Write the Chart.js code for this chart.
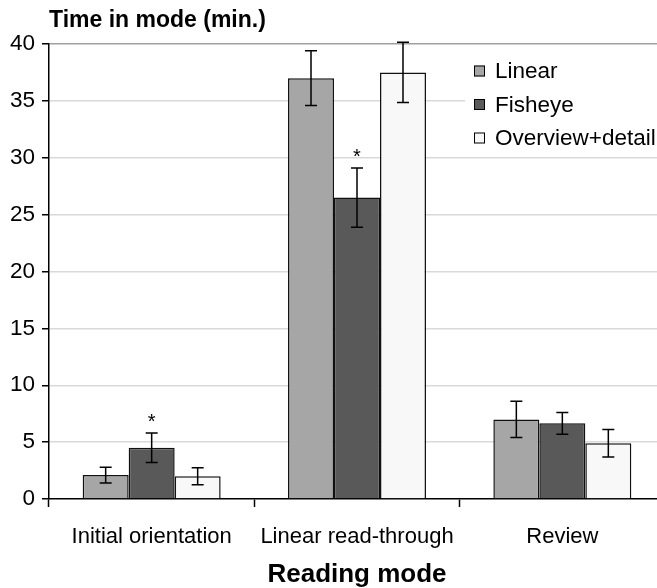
<!DOCTYPE html>
<html>
<head>
<meta charset="utf-8">
<title>Time in mode by reading mode</title>
<script src="https://cdn.jsdelivr.net/npm/chart.js@4/dist/chart.umd.min.js"></script>
<style>
  html, body { margin: 0; padding: 0; background: #fff; overflow: hidden; }
  #wrap { width: 657px; height: 588px; overflow: hidden; }
  canvas { display: block; }
</style>
</head>
<body>
<div id="wrap"><canvas id="c" width="665" height="588"></canvas></div>
<script>
// Reading modes on the x axis
const categories = ['Initial orientation', 'Linear read-through', 'Review'];

// Mean time in each mode (minutes), per interface
const linearTime   = [2.1, 37.0, 7.0];
const fisheyeTime  = [4.5, 26.5, 6.65];
const overviewTime = [2.0, 37.5, 4.9];

// Half-width of the error bars (minutes)
const linearErr   = [0.7, 2.4, 1.6];
const fisheyeErr  = [1.3, 2.6, 0.95];
const overviewErr = [0.75, 2.65, 1.2];

// Significant differences, marked with an asterisk
const fisheyeSignificant = [true, true, false];

const seriesNames = ['Linear', 'Fisheye', 'Overview+detail'];
const yTicks = [0, 5, 10, 15, 20, 25, 30, 35, 40];

const FONT = "'Liberation Sans', Arial, Helvetica, sans-serif";
const fills = ['#a6a6a6', '#595959', '#f8f8f8'];

const errorSets = [linearErr, fisheyeErr, overviewErr];
const starSets = [null, fisheyeSignificant, null];

// Error bars and significance asterisks
const errorBarPlugin = {
  id: 'errorBars',
  afterDatasetsDraw(chart) {
    const ctx = chart.ctx;
    const y = chart.scales.y;
    ctx.save();
    chart.data.datasets.forEach((ds, di) => {
      const meta = chart.getDatasetMeta(di);
      const errs = errorSets[di];
      meta.data.forEach((bar, i) => {
        const v = ds.data[i];
        const e = errs[i];
        const x = bar.x;
        const yTop = y.getPixelForValue(v + e);
        const yBot = y.getPixelForValue(v - e);
        ctx.strokeStyle = '#000';
        ctx.lineWidth = 1.5;
        ctx.beginPath();
        ctx.moveTo(x, yTop); ctx.lineTo(x, yBot);
        ctx.moveTo(x - 6, yTop); ctx.lineTo(x + 6, yTop);
        ctx.moveTo(x - 6, yBot); ctx.lineTo(x + 6, yBot);
        ctx.stroke();
        const stars = starSets[di];
        if (stars && stars[i]) {
          ctx.fillStyle = '#000';
          ctx.font = '20px ' + FONT;
          ctx.textAlign = 'center';
          ctx.textBaseline = 'middle';
          ctx.fillText('*', x, yTop - 11);
        }
      });
    });
    ctx.restore();
  }
};

// Axis titles and the legend box inside the plot
const decorPlugin = {
  id: 'decor',
  afterDraw(chart) {
    const ctx = chart.ctx;
    const area = chart.chartArea;
    ctx.save();
    // y axis title, above the axis
    ctx.fillStyle = '#000';
    ctx.font = 'bold 23px ' + FONT;
    ctx.textAlign = 'left';
    ctx.textBaseline = 'alphabetic';
    ctx.fillText('Time in mode (min.)', area.left, 27);
    // x axis title
    ctx.font = 'bold 26px ' + FONT;
    ctx.textAlign = 'center';
    ctx.fillText('Reading mode', (area.left + area.right) / 2, 582);
    // legend
    ctx.fillStyle = '#fff';
    ctx.fillRect(465, 52, 200, 103);
    ctx.font = '22.5px ' + FONT;
    ctx.textAlign = 'left';
    ctx.textBaseline = 'middle';
    seriesNames.forEach((name, i) => {
      const cy = 71 + i * 33.5;
      ctx.fillStyle = fills[i];
      ctx.fillRect(474, cy - 5.5, 11, 11);
      ctx.strokeStyle = '#000';
      ctx.lineWidth = 1;
      ctx.strokeRect(474.5, cy - 5, 10, 10);
      ctx.fillStyle = '#000';
      ctx.fillText(name, 495, cy + 1);
    });
    ctx.restore();
  }
};

const datasets = [linearTime, fisheyeTime, overviewTime].map((vals, i) => ({
  label: seriesNames[i],
  data: vals,
  backgroundColor: fills[i],
  borderColor: '#111',
  borderWidth: 1.5,
  categoryPercentage: 0.672,
  barPercentage: 1.0
}));

new Chart(document.getElementById('c'), {
  type: 'bar',
  data: { labels: categories, datasets },
  options: {
    responsive: false,
    devicePixelRatio: 1,
    animation: false,
    layout: { padding: { top: 44, left: 0, right: 0, bottom: 0 } },
    plugins: {
      legend: { display: false },
      tooltip: { enabled: false },
      title: { display: false }
    },
    scales: {
      x: {
        afterFit(scale) { scale.height = 89; },
        grid: {
          offset: true,
          drawOnChartArea: false,
          drawTicks: true,
          tickLength: 8,
          tickColor: '#000',
          tickWidth: 1.5
        },
        border: { color: '#000', width: 1.5 },
        ticks: {
          color: '#000',
          padding: 17,
          font: { family: FONT, size: 22 },
          maxRotation: 0
        }
      },
      y: {
        min: 0,
        max: 40,
        afterFit(scale) { scale.width = 49; },
        afterBuildTicks(scale) { scale.ticks = yTicks.map(v => ({ value: v })); },
        grid: {
          color: c => c.tick && c.tick.value === 40 ? '#a0a0a0' : (c.tick && c.tick.value === 0 ? 'rgba(0,0,0,0)' : '#d9d9d9'),
          lineWidth: 1.5,
          drawTicks: true,
          tickLength: 7,
          tickColor: '#000',
          tickWidth: 1.5
        },
        border: { color: '#000', width: 1.5 },
        ticks: {
          color: '#000',
          padding: 7,
          font: { family: FONT, size: 22.5 }
        }
      }
    }
  },
  plugins: [errorBarPlugin, decorPlugin]
});
</script>
</body>
</html>
